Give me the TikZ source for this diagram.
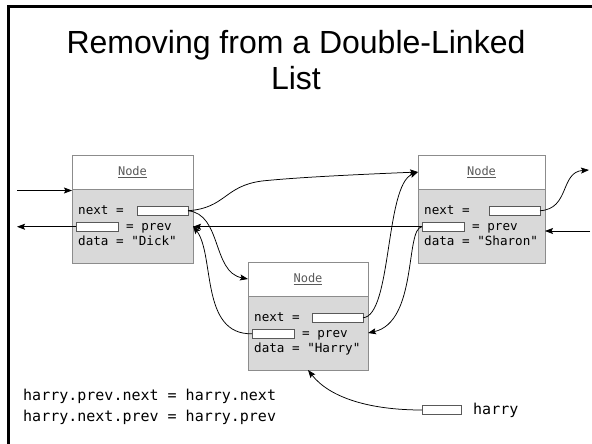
\documentclass[tikz,border=0pt]{standalone}
\usepackage{fontspec}
\setmainfont{Liberation Sans}
\newfontfamily\codefont{DejaVu Sans Mono}
\usetikzlibrary{calc,arrows.meta}

\definecolor{boxline}{HTML}{8C8C8C}
\definecolor{bodyfill}{HTML}{D9D9D9}
\definecolor{ptrline}{HTML}{595959}
\definecolor{headtext}{HTML}{595959}

\tikzset{
  headbox/.style={draw=boxline, fill=white, line width=0.8pt, anchor=north west,
    minimum height=34pt, inner sep=0pt, outer sep=0pt, text=headtext,
    font=\codefont\fontsize{12}{14}\selectfont},
  bodybox/.style={draw=boxline, fill=bodyfill, line width=0.8pt, anchor=north west,
    minimum height=74pt, inner sep=0pt, outer sep=0pt},
  ptrbox/.style={draw=ptrline, fill=white, line width=0.7pt, minimum height=9.5pt,
    inner sep=0pt, outer sep=0pt},
  code/.style={font=\codefont\fontsize{12.6}{15}\selectfont, inner sep=0pt, anchor=base west},
  bigcode/.style={font=\codefont\fontsize{15}{20}\selectfont, inner sep=0pt, anchor=base west},
  link/.style={draw=black, line width=0.75pt, -{Stealth[length=8pt,width=6pt,inset=1.5pt]}},
  titletext/.style={font=\fontsize{32}{37}\selectfont, inner sep=0pt, anchor=base},
}

% one list node: name, left, top, width, data string
\newcommand\listnode[5]{%
  \node[headbox, minimum width=#4pt] (#1-head) at (#2,#3) {\underline{Node}};
  \node[bodybox, minimum width=#4pt] (#1) at (#1-head.south west) {};
  \node[ptrbox, minimum width=51pt, anchor=north east] (#1-next) at ($(#1.north east)+(-5,17)$) {};
  \node[ptrbox, minimum width=42pt, anchor=north west] (#1-prev) at ($(#1.north west)+(4,33)$) {};
  \node[code] (#1-nextlbl) at ($(#1.north west)+(6,25)$) {next =};
  \node[code] (#1-prevlbl) at ($(#1-prev.east)+(8,3.5)$) {= prev};
  \node[code] (#1-datalbl) at ($(#1.north west)+(6,56)$) {data = "#5"};
}

\begin{document}
\begin{tikzpicture}[x=1pt, y=-1pt]
\useasboundingbox (0,0) rectangle (592,444);

% slide frame
\draw[line width=2.6pt] (8.7,444) -- (8.7,6.3) -- (592,6.3);

% title
\node[titletext] (title1) at (296,53.5) {Removing from a Double-Linked};
\node[titletext] (title2) at (296,89.5) {List};

% list nodes
\listnode{dick}{72}{155}{121}{Dick}
\listnode{sharon}{418}{155}{127}{Sharon}
\listnode{harry}{248}{262}{120}{Harry}

% outside ends
\coordinate (inL) at (17,190.5);
\coordinate (outL) at (17,226.5);
\coordinate (inR) at (590,231);
\coordinate (outR) at (589,170);

\draw[link] (inL) -- (inL -| dick.west);
\draw[link] (dick-prev.west) -- (dick-prev.west -| outL);
\draw[link] (sharon-prev.west) -- (sharon-prev.west -| dick.east);
\draw[link] (dick-next.east) .. controls (226,208) and (224,186) .. (262,181)
  .. controls (300,177) and (370,174) .. (sharon-head.west);
\draw[link] (dick-next.east) .. controls (222,214) and (212,272) .. (harry-head.west);
\draw[link] (harry-prev.west) .. controls (200,335) and (215,255) .. (dick.east);
\draw[link] (harry-next.east) .. controls (392,316) and (385,185) .. (sharon-head.west);
\draw[link] (sharon-prev.west) .. controls (405,228) and (418,322) .. (harry.east);
\draw[link] (sharon-next.east) .. controls (570,209) and (560,172) .. (outR);
\draw[link] (inR) -- (inR -| sharon.east);

% code and the harry reference
\node[bigcode] (code1) at (23,400.7) {harry.prev.next = harry.next};
\node[bigcode] (code2) at (23,421) {harry.next.prev = harry.prev};
\node[ptrbox, minimum width=39pt, anchor=west] (harryptr) at (422,410) {};
\node[bigcode] (harrylbl) at (473,414.5) {harry};
\draw[link] (harryptr.west) .. controls (370,410) and (330,398) .. (harry.south);
\end{tikzpicture}
\end{document}
